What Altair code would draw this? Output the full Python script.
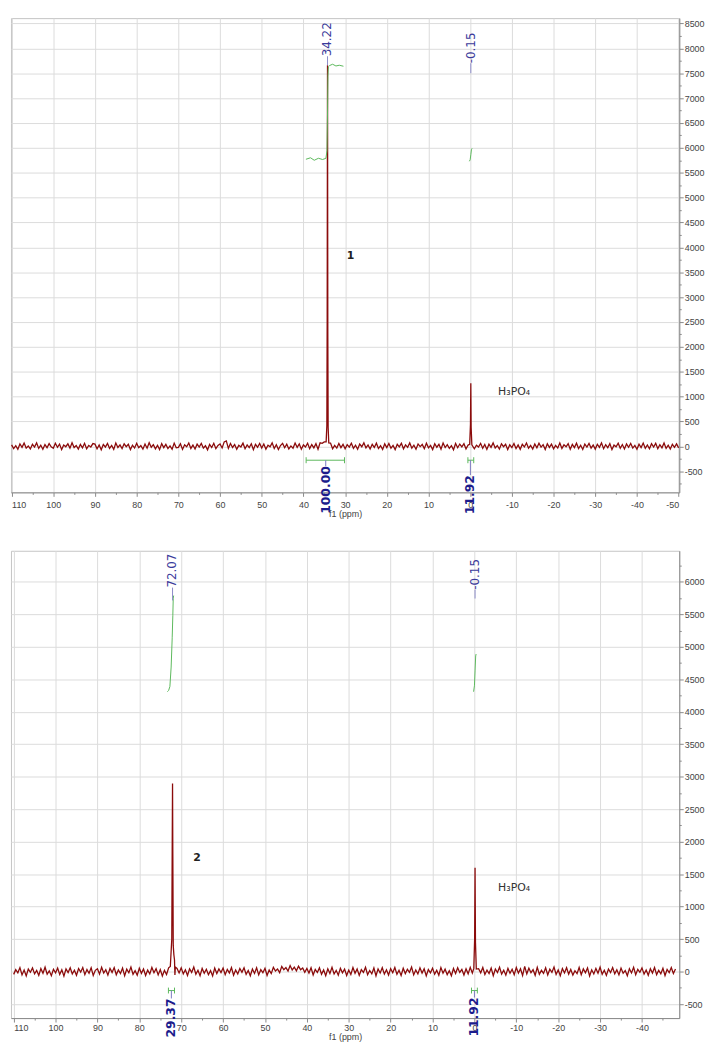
import altair as alt
import pandas as pd

RED = "#8b0b0b"
GREEN = "#5cb85c"
LBL = "#3b3b9b"
NAVY = "#1c1c8c"

# ---------------- Panel 1 (compound 1) ----------------
# baseline intensities every 0.5 ppm from 110 down to -50
p1_noise = [
    30, -45, 12, -60, 48, -20, 65, -35, 8, -52, 40, -15, 70, -42, 22, -58, 35, -28, 55, -10,     # 110..100.5
    -40, 62, -18, 45, -66, 28, -8, 50, -36, 74, -24, 16, -55, 38, -30, 60, -48, 20, -12, 56,     # 100..90.5
    44, -50, 26, -70, 36, -14, 58, -40, 18, -62, 66, -22, 30, -46, 52, -6, 42, -64, 24, -34,     # 90..80.5
    60, -28, 14, -56, 46, -38, 72, -18, 34, -50, 20, -66, 54, -26, 40, -44, 10, -58, 64, -30,    # 80..70.5
    -20, 50, -62, 32, -8, 68, -42, 26, -54, 44, -16, 58, -36, 12, -70, 38, -24, 62, -46, 18,     # 70..60.5
    48, -32, 90, 110, -40, 56, -22, 36, -60, 20, -12, 64, -48, 30, -26, 52, -68, 40, -18, 58,    # 60..50.5
    -34, 46, -56, 24, -10, 70, -44, 32, -64, 16, 60, -28, 42, -52, 8, -38, 66, -20, 50, -58,     # 50..40.5
    28, -14, 62, -46, 36, -30, 54, -60, 70, 60, 90, 44, -20, 66, -50, 18, -36, 58, -26, 40,      # 40..30.5
    -48, 34, -16, 62, -40, 22, -58, 46, -8, 70, -32, 28, -54, 40, -22, 64, -44, 12, -62, 50,     # 30..20.5
    -26, 56, -38, 18, -66, 42, -12, 60, -50, 30, -20, 68, -36, 24, -58, 48, -6, 38, -46, 62,     # 20..10.5
    -30, 20, -64, 52, -18, 40, -56, 66, -24, 34, -42, 14, -68, 58, -28, 46, -10, 54, -52, 26,    # 10..0.5
    -36, 64, -48, 22, -14, 60, -40, 36, -62, 44, -20, 70, -32, 16, -56, 50, -8, 42, -66, 30,     # 0..-9.5
    -24, 58, -46, 28, -60, 40, -12, 66, -38, 20, -54, 48, -30, 62, -16, 34, -64, 52, -22, 44,    # -10..-19.5
    -50, 18, -34, 68, -42, 30, -8, 56, -58, 38, -26, 64, -44, 22, -62, 46, -14, 60, -36, 26,     # -20..-29.5
    -56, 42, -20, 70, -48, 32, -28, 54, -66, 24, -10, 62, -40, 36, -52, 48, -18, 58, -34, 20,    # -30..-39.5
    -60, 44, -24, 66, -38, 28, -50, 52, -14, 60, -46, 34, -30, 68, -42, 22, -56, 40, -20, 50,    # -40..-49.5
    -30,                                                                                          # -50
]
p1_peak_centers = [34.22, -0.15]
p1_peak_ppm = [34.55, 34.38, 34.3, 34.22, 34.15, 34.07, 33.92, 0.12, -0.07, -0.15, -0.23, -0.4]
p1_peak_int = [90, 420, 2600, 7660, 2300, 380, 70, 40, 450, 1270, 380, 30]

p1_int_ppm = [[39.4, 38.3, 37.4, 36.4, 35.4, 34.6, 34.35, 34.22, 34.12, 34.0, 33.7, 33.0, 32.2, 31.4, 30.4],
              [0.2, 0.0, -0.15, -0.3, -0.45]]
p1_int_val = [[5770, 5800, 5750, 5790, 5765, 5790, 5940, 6700, 7440, 7630, 7655, 7680, 7645, 7660, 7640],
              [5730, 5760, 5860, 5960, 5990]]

p1_lbl_ppm = [34.22, -0.15]
p1_lbl_text = ["34.22", "-0.15"]
p1_lbl_y = [7840, 7700]
p1_lbl_tick_end = [7660, 7500]

p1_intg_ppm = [34.65, -0.05]
p1_intg_text = ["100.00", "11.92"]
p1_intg_y = [-398, -577]
p1_bar_from = [39.35, 0.55]
p1_bar_to = [30.15, -0.85]
p1_bar_y = -279
p1_cap = 60

p1_bold_notes = [("1", 29.6, 3820)]
p1_plain_notes = [("H\u2083PO\u2084", -6.7, 1094)]
p1_xdom = [110.15, -50.15]
p1_ydom = [-925, 8607]

# ---------------- Panel 2 (compound 2) ----------------
# baseline intensities every 0.5 ppm from 110 down to -48
p2_noise = [
    -42, 30, -18, 62, -50, 24, -66, 40, -10, 56, -34, 18, -58, 46, -26, 68, -40, 12, -62, 36,    # 110..100.5
    -20, 54, -44, 28, -70, 42, -14, 60, -36, 22, -56, 48, -8, 64, -46, 32, -24, 58, -60, 20,     # 100..90.5
    44, -38, 66, -22, 30, -54, 50, -12, 62, -48, 26, -30, 56, -64, 38, -18, 70, -42, 14, -56,    # 90..80.5
    52, -26, 40, -60, 24, -36, 64, -16, 46, -50, 32, -68, 20, -44, 58, -28, 36, -52, 48, -20,    # 80..70.5
    60, -34, 28, -58, 44, -12, 70, -40, 22, -62, 50, -24, 36, -48, 16, -66, 54, -30, 42, -14,    # 70..60.5
    56, -46, 34, -20, 64, -54, 26, -36, 48, -10, 60, -42, 18, -64, 40, -28, 58, -50, 30, -16,    # 60..50.5
    52, -60, 24, -30, 66, 10, 40, -16, 80, 30, 62, 10, 94, 26, 70, 12, 84, 30, 56, -10,          # 50..40.5
    48, -22, 60, -50, 34, -14, 58, -40, 26, -62, 44, -28, 66, -36, 20, -54, 50, -18, 38, -60,    # 40..30.5
    24, -44, 62, -26, 40, -58, 30, -12, 68, -48, 18, -34, 56, -64, 42, -20, 60, -38, 28, -52,    # 30..20.5
    46, -16, 64, -42, 22, -60, 52, -30, 36, -10, 70, -50, 26, -36, 58, -22, 44, -66, 32, -18,    # 20..10.5
    54, -40, 20, -56, 62, -24, 38, -46, 14, -64, 48, -28, 60, -12, 34, -52, 42, -34, 66, -20,    # 10..0.5
    30, -58, 46, -18, 64, -44, 24, -30, 56, -62, 40, -14, 68, -38, 22, -54, 50, -26, 36, -48,    # 0..-9.5
    62, -22, 44, -60, 80, -34, 52, -16, 30, -56, 66, -40, 20, -28, 58, -50, 38, -12, 70, -44,    # -10..-19.5
    26, -62, 48, -20, 60, -38, 34, -54, 14, -30, 64, -46, 42, -18, 56, -66, 28, -36, 50, -24,    # -20..-29.5
    68, -42, 22, -58, 40, -14, 62, -34, 30, -50, 54, -26, 16, -64, 46, -20, 66, -48, 36, -10,    # -30..-39.5
    58, -38, 26, -56, 44, -22, 64, -46, 20, -32, 52, -60, 34, -16, 62, -28, 40,                  # -40..-48
]
p2_peak_centers = [72.07, -0.15]
p2_peak_ppm = [72.6, 72.25, 72.14, 72.07, 72.0, 71.9, 71.75, 71.6, 71.4, 0.15, -0.05, -0.15, -0.25, -0.45]
p2_peak_int = [80, 500, 2000, 2895, 1800, 400, 260, 180, 70, 50, 500, 1600, 450, 40]

p2_int_ppm = [[73.3, 73.0, 72.7, 72.4, 72.15, 72.0, 71.9, 71.8],
              [0.2, 0.0, -0.15, -0.3, -0.4]]
p2_int_val = [[4310, 4330, 4390, 4690, 5140, 5480, 5750, 5790],
              [4310, 4400, 4630, 4860, 4890]]

p2_lbl_ppm = [72.07, -0.15]
p2_lbl_text = ["72.07", "-0.15"]
p2_lbl_y = [5913, 5880]
p2_lbl_tick_end = [5715, 5745]

p2_intg_ppm = [72.35, 0.0]
p2_intg_text = ["29.37", "11.92"]
p2_intg_y = [-413, -398]
p2_bar_from = [73.05, 0.7]
p2_bar_to = [71.6, -0.7]
p2_bar_y = -291
p2_cap = 45

p2_bold_notes = [("2", 67.15, 1751)]
p2_plain_notes = [("H\u2083PO\u2084", -5.65, 1295)]
p2_xdom = [110.64, -48.9]
p2_ydom = [-715, 6480]


def panel(noise, centers, pk_ppm, pk_int, int_ppm, int_val,
          lbl_ppm, lbl_text, lbl_y, lbl_end,
          intg_ppm, intg_text, intg_y, bar_from, bar_to, bar_y, cap,
          bold_notes, plain_notes, xdom, ydom, width, height, flush, lpad):
    grid = [110 - 0.5 * i for i in range(len(noise))]
    rows = [(p, v) for p, v in zip(grid, noise) if all(abs(p - c) > 0.5 for c in centers)]
    rows += list(zip(pk_ppm, pk_int))
    spec = pd.DataFrame(rows, columns=["x", "y"])

    irows = []
    for g, (xs, ys) in enumerate(zip(int_ppm, int_val)):
        for i, (a, b) in enumerate(zip(xs, ys)):
            irows.append({"x": a, "y": b, "g": g, "o": i})
    integ = pd.DataFrame(irows)

    lbl = pd.DataFrame({"x": lbl_ppm, "y": lbl_y, "y2": lbl_end, "t": lbl_text})
    bars = pd.DataFrame({"x": bar_from, "x2": bar_to, "y": [bar_y] * len(bar_from)})
    caps = pd.DataFrame({"x": bar_from + bar_to,
                         "y": [bar_y - cap] * (2 * len(bar_from)),
                         "y2": [bar_y + cap] * (2 * len(bar_from))})
    ctick = pd.DataFrame({"x": intg_ppm, "y": [bar_y] * len(intg_ppm), "y2": intg_y})
    intg = pd.DataFrame({"x": intg_ppm, "y": intg_y, "t": intg_text})
    bn = pd.DataFrame(bold_notes, columns=["t", "x", "y"])
    pn = pd.DataFrame(plain_notes, columns=["t", "x", "y"])

    xvals = [v for v in range(-50, 111, 5) if min(xdom) <= v <= max(xdom)]
    yvals = [v for v in range(-1000, 9001, 250) if min(ydom) <= v <= max(ydom)]

    X = alt.X("x:Q", scale=alt.Scale(domain=xdom, nice=False, zero=False),
              axis=alt.Axis(values=xvals, title="f1 (ppm)",
                            labelExpr="datum.value % 10 === 0 ? '' + datum.value : ''",
                            tickSize={"condition": {"test": "datum.value % 10 === 0", "value": 4}, "value": 2},
                            gridOpacity={"condition": {"test": "datum.value % 10 === 0", "value": 1}, "value": 0},
                            labelFlush=flush, labelOverlap=False, labelPadding=lpad, titlePadding=0))
    Y = alt.Y("y:Q", scale=alt.Scale(domain=ydom, nice=False, zero=False),
              axis=alt.Axis(orient="right", values=yvals, title=None,
                            labelExpr="datum.value % 500 === 0 ? '' + datum.value : ''",
                            tickSize={"condition": {"test": "datum.value % 500 === 0", "value": 4}, "value": 2},
                            gridOpacity={"condition": {"test": "datum.value % 500 === 0", "value": 1}, "value": 0},
                            labelOverlap=False, labelPadding=1, labelBaseline="middle"))

    l_spec = alt.Chart(spec).mark_line(color=RED, strokeWidth=1.3, clip=True).encode(x=X, y=Y)
    l_int = alt.Chart(integ).mark_line(color=GREEN, strokeWidth=1).encode(
        x=X, y=Y, detail="g:N", order="o:Q")
    l_ltick = alt.Chart(lbl).mark_rule(color="#8c8cc8", strokeWidth=1).encode(x=X, y=Y, y2="y2:Q")
    l_ltext = alt.Chart(lbl).mark_text(angle=270, align="left", baseline="middle", fontSize=12,
                                       font="DejaVu Sans", color=LBL).encode(x=X, y=Y, text="t:N")
    l_bar = alt.Chart(bars).mark_rule(color=GREEN, strokeWidth=1).encode(x=X, x2="x2:Q", y=Y)
    l_cap = alt.Chart(caps).mark_rule(color=GREEN, strokeWidth=1).encode(x=X, y=Y, y2="y2:Q")
    l_ct = alt.Chart(ctick).mark_rule(color="#7a7ac0", strokeWidth=1).encode(x=X, y=Y, y2="y2:Q")
    l_itext = alt.Chart(intg).mark_text(angle=270, align="right", baseline="middle", fontSize=12.5,
                                        fontWeight="bold", font="DejaVu Sans", color=NAVY).encode(
        x=X, y=Y, text="t:N")
    l_bn = alt.Chart(bn).mark_text(align="left", baseline="middle", font="DejaVu Sans", fontSize=11,
                                   fontWeight="bold", color="#222222").encode(x=X, y=Y, text="t:N")
    l_pn = alt.Chart(pn).mark_text(align="left", baseline="middle", font="DejaVu Sans", fontSize=11,
                                   color="#333333").encode(x=X, y=Y, text="t:N")

    return alt.layer(l_spec, l_int, l_ltick, l_ltext, l_bar, l_cap, l_ct, l_itext, l_bn, l_pn).properties(
        width=width, height=height)


top = panel(p1_noise, p1_peak_centers, p1_peak_ppm, p1_peak_int, p1_int_ppm, p1_int_val,
            p1_lbl_ppm, p1_lbl_text, p1_lbl_y, p1_lbl_tick_end,
            p1_intg_ppm, p1_intg_text, p1_intg_y, p1_bar_from, p1_bar_to, p1_bar_y, p1_cap,
            p1_bold_notes, p1_plain_notes, p1_xdom, p1_ydom, 675, 479, 1, 4)
bottom = panel(p2_noise, p2_peak_centers, p2_peak_ppm, p2_peak_int, p2_int_ppm, p2_int_val,
               p2_lbl_ppm, p2_lbl_text, p2_lbl_y, p2_lbl_tick_end,
               p2_intg_ppm, p2_intg_text, p2_intg_y, p2_bar_from, p2_bar_to, p2_bar_y, p2_cap,
               p2_bold_notes, p2_plain_notes, p2_xdom, p2_ydom, 675, 472, 4, 2)

chart = alt.vconcat(top, bottom, spacing=31).resolve_scale(
    x="independent", y="independent").properties(
    padding={"left": 2, "top": 4, "right": 0, "bottom": 0}
).configure_view(stroke="#c4c4c4", strokeWidth=1).configure_axis(
    labelFont="Liberation Sans", labelFontSize=9, labelColor="#444444",
    titleFont="Liberation Sans", titleFontSize=9, titleFontWeight="normal", titleColor="#444444",
    domainColor="#8a8a8a", tickColor="#8a8a8a", gridColor="#dcdcdc", gridWidth=1)

chart.save("out.html", embed_options={"renderer": "svg", "actions": False})
